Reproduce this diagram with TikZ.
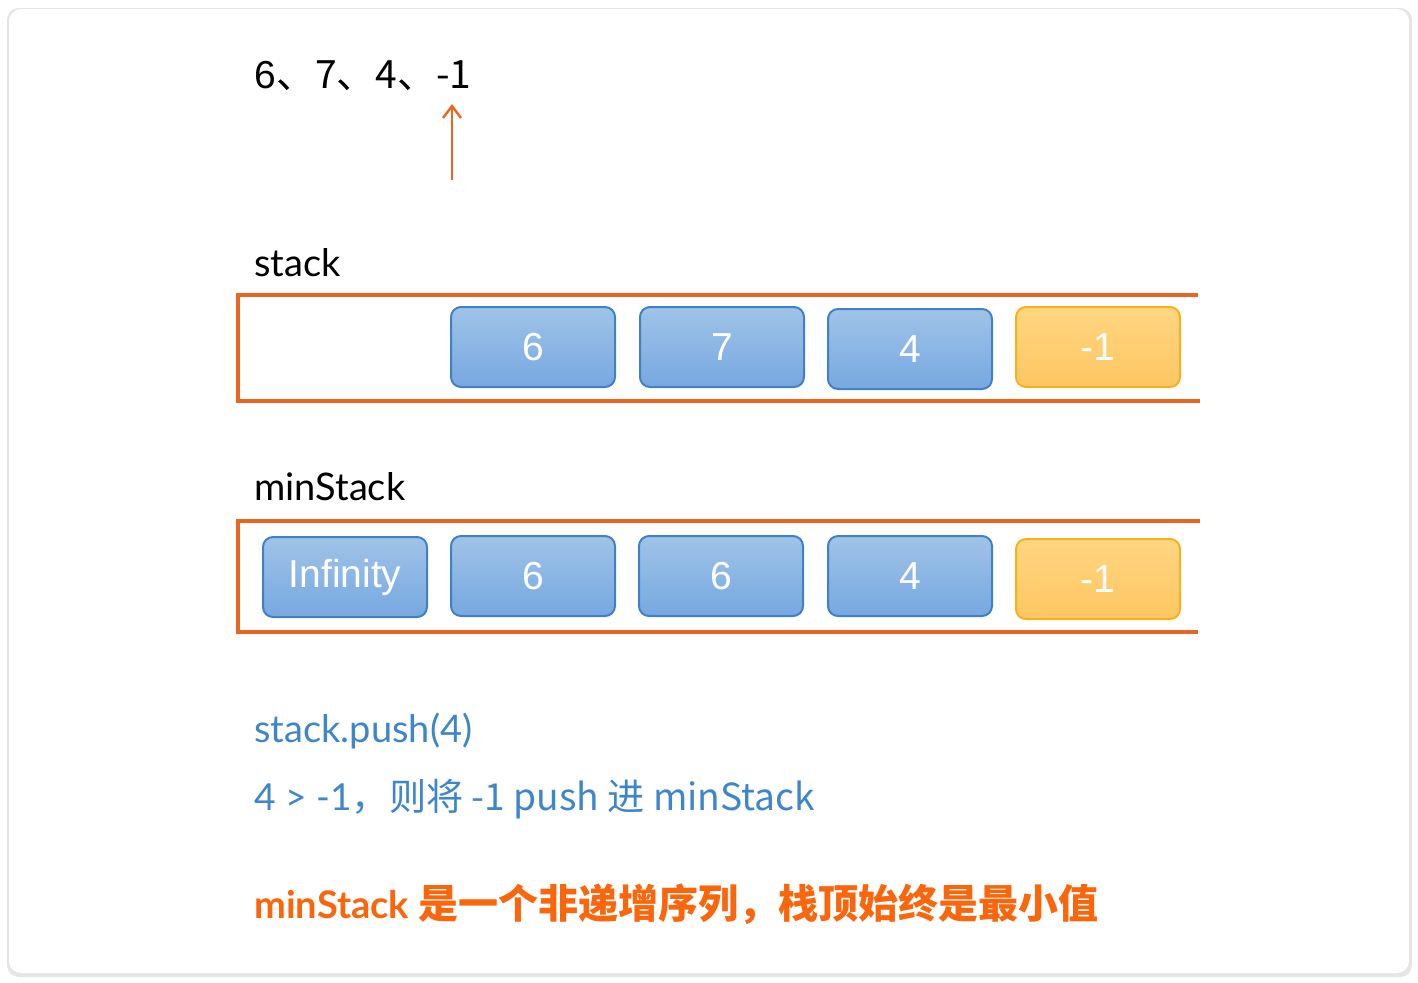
\documentclass[tikz,border=0pt]{standalone}
\usepackage{fontspec}
\setmainfont{Lato}
\newfontfamily\cjk{Noto Sans CJK SC}
\newfontfamily\helv{Liberation Sans}
\usetikzlibrary{arrows.meta}
\definecolor{frameor}{RGB}{234,101,31}
\definecolor{bluetop}{RGB}{160,195,232}
\definecolor{bluebot}{RGB}{118,168,224}
\definecolor{blueedge}{RGB}{66,128,198}
\definecolor{yeltop}{RGB}{255,214,130}
\definecolor{yelbot}{RGB}{254,198,98}
\definecolor{yeledge}{RGB}{246,178,30}
\definecolor{txtblue}{RGB}{62,134,204}
\definecolor{txtor}{RGB}{250,102,12}
\tikzset{
  x=0.5pt, y=-0.5pt,
  cell/.style={draw=blueedge, line width=1pt, rounded corners=5pt, top color=bluetop, bottom color=bluebot, minimum width=82pt, minimum height=40pt, inner sep=0pt, text=white, font=\helv\fontsize{19.5}{22}\selectfont},
  ycell/.style={cell, draw=yeledge, top color=yeltop, bottom color=yelbot},
  frameline/.style={draw=frameor, line width=1.7pt},
  lbl/.style={anchor=base west, inner sep=0pt, font=\fontsize{19}{22}\selectfont},
}
\begin{document}
\begin{tikzpicture}
\useasboundingbox (0,0) rectangle (1418,982);
\fill[white] (0,0) rectangle (1418,982);
\fill[black!10, rounded corners=6pt] (7,8) rectangle (1412,977);
\fill[white, rounded corners=6pt] (9,9) rectangle (1409,973);

\node[lbl, font=\helv\fontsize{19.5}{24}\selectfont] (seq) at (254,88) {6\cjk{、}7\cjk{、}4\cjk{、}-1};
\coordinate (arrtail) at (452,180);
\coordinate (arrhead) at (452,104);
\draw[draw=frameor, line width=1.2pt, -{Straight Barb[length=6pt,width=9pt]}] (arrtail) -- (arrhead);

\node[lbl] (stacklbl) at (254,276) {stack};
\coordinate (s1) at (1198,295);
\coordinate (s2) at (238,295);
\coordinate (s3) at (238,401);
\coordinate (s4) at (1200,401);
\draw[frameline] (s1) -- (s2) -- (s3) -- (s4);
\node[cell] (a1) at (533,347) {6};
\node[cell] (a2) at (722,347) {7};
\node[cell] (a3) at (910,349) {4};
\node[ycell] (a4) at (1098,347) {-1};

\node[lbl] (minlbl) at (254,500) {minStack};
\coordinate (m1) at (1200,521);
\coordinate (m2) at (238,521);
\coordinate (m3) at (238,632);
\coordinate (m4) at (1198,632);
\draw[frameline] (m1) -- (m2) -- (m3) -- (m4);
\node[cell] (b0) at (345,577) {Infinity};
\node[cell] (b1) at (533,576) {6};
\node[cell] (b2) at (721,576) {6};
\node[cell] (b3) at (910,576) {4};
\node[ycell] (b4) at (1098,579) {-1};

\node[lbl, text=txtblue] (t1) at (254,742) {stack.push(4)};
\node[lbl, text=txtblue, font=\fontsize{18.6}{22}\selectfont] (t2) at (254,810) {4 > -1\cjk{，则将} -1 push \cjk{进} minStack};
\node[lbl, text=txtor, font=\bfseries\fontsize{19}{22}\selectfont] (t3) at (254,918) {minStack \cjk{\fontsize{20}{22}\selectfont 是一个非递增序列，栈顶始终是最小值}};
\end{tikzpicture}
\end{document}
